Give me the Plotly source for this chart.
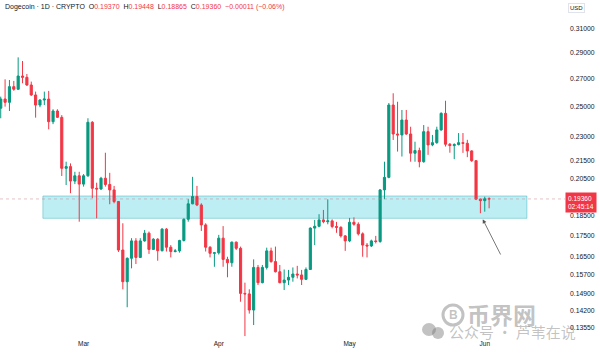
import math
import pandas as pd
import plotly.graph_objects as go

# ---------------- data ----------------
dates = pd.date_range("2025-02-10", "2025-06-02", freq="D")

opens = [0.2488,0.2552,0.2529,0.2641,0.2622,0.2720,0.2710,0.2653,0.2581,0.2510,
0.2545,0.2552,0.2397,0.2469,0.2426,0.2107,0.2117,0.2034,0.2064,0.2017,
0.2064,0.2393,0.1994,0.1990,0.2050,0.2015,0.1985,0.1922,0.1681,0.1540,
0.1643,0.1724,0.1647,0.1724,0.1761,0.1684,0.1732,0.1678,0.1781,0.1694,
0.1674,0.1677,0.1726,0.1830,0.1910,0.1949,0.1904,0.1802,0.1694,0.1666,
0.1668,0.1737,0.1638,0.1623,0.1718,0.1689,0.1491,0.1489,0.1424,0.1602,
0.1536,0.1602,0.1677,0.1628,0.1583,0.1536,0.1547,0.1559,0.1573,0.1569,
0.1550,0.1593,0.1786,0.1795,0.1827,0.1818,0.1822,0.1794,0.1790,0.1748,
0.1724,0.1815,0.1805,0.1758,0.1704,0.1700,0.1724,0.1721,0.1985,0.2055,
0.2510,0.2317,0.2311,0.2408,0.2317,0.2197,0.2213,0.2146,0.2332,0.2248,
0.2262,0.2343,0.2453,0.2252,0.2244,0.2250,0.2262,0.2258,0.2211,0.2152,
0.1935,0.1927,0.19370]

highs = [0.2569,0.2695,0.2690,0.2683,0.2864,0.2835,0.2735,0.2678,0.2605,0.2552,
0.2605,0.2610,0.2481,0.2481,0.2441,0.2146,0.2136,0.2087,0.2087,0.2074,
0.2420,0.2401,0.2025,0.2058,0.2200,0.2081,0.2007,0.1925,0.1810,0.1647,
0.1737,0.1737,0.1737,0.1777,0.1769,0.1737,0.1737,0.1786,0.1786,0.1704,
0.1686,0.1729,0.1835,0.1935,0.2058,0.2007,0.1913,0.1810,0.1699,0.1672,
0.1753,0.1796,0.1650,0.1721,0.1721,0.1697,0.1536,0.1508,0.1638,0.1613,
0.1613,0.1692,0.1692,0.1697,0.1613,0.1593,0.1591,0.1602,0.1609,0.1591,
0.1602,0.1790,0.1827,0.1856,0.1878,0.1934,0.1830,0.1817,0.1795,0.1752,
0.1837,0.1840,0.1815,0.1765,0.1714,0.1730,0.1748,0.1990,0.2146,0.2524,
0.2593,0.2533,0.2476,0.2476,0.2364,0.2268,0.2231,0.2375,0.2364,0.2311,
0.2364,0.2460,0.2540,0.2260,0.2258,0.2323,0.2323,0.2280,0.2215,0.2155,
0.1938,0.1948,0.19448]

lows = [0.2420,0.2499,0.2469,0.2611,0.2617,0.2666,0.2646,0.2574,0.2424,0.2495,
0.2510,0.2347,0.2381,0.2422,0.2063,0.2012,0.1967,0.2017,0.1818,0.2003,
0.2058,0.1940,0.1835,0.1985,0.2003,0.1908,0.1913,0.1672,0.1508,0.1435,
0.1598,0.1617,0.1645,0.1720,0.1663,0.1682,0.1632,0.1674,0.1674,0.1647,
0.1670,0.1669,0.1721,0.1818,0.1908,0.1898,0.1772,0.1674,0.1647,0.1605,
0.1660,0.1605,0.1559,0.1605,0.1681,0.1457,0.1325,0.1410,0.1366,0.1526,
0.1533,0.1593,0.1623,0.1580,0.1533,0.1505,0.1526,0.1540,0.1554,0.1526,
0.1547,0.1591,0.1704,0.1790,0.1810,0.1805,0.1785,0.1763,0.1740,0.1677,
0.1718,0.1798,0.1750,0.1650,0.1647,0.1695,0.1712,0.1715,0.1935,0.2050,
0.2279,0.2207,0.2177,0.2311,0.2146,0.2146,0.2113,0.2140,0.2187,0.2240,
0.2255,0.2338,0.2238,0.2200,0.2161,0.2245,0.2199,0.2173,0.2145,0.1930,
0.1861,0.1869,0.18865]

closes = [0.2552,0.2529,0.2641,0.2622,0.2720,0.2710,0.2653,0.2581,0.2510,0.2545,
0.2552,0.2397,0.2469,0.2426,0.2107,0.2117,0.2034,0.2064,0.2017,0.2064,
0.2393,0.1994,0.1990,0.2050,0.2015,0.1985,0.1922,0.1681,0.1540,0.1643,
0.1724,0.1647,0.1724,0.1761,0.1684,0.1732,0.1678,0.1781,0.1694,0.1674,
0.1677,0.1726,0.1830,0.1910,0.1949,0.1904,0.1802,0.1694,0.1666,0.1668,
0.1737,0.1638,0.1623,0.1718,0.1689,0.1491,0.1489,0.1424,0.1602,0.1536,
0.1602,0.1677,0.1628,0.1583,0.1536,0.1547,0.1559,0.1573,0.1569,0.1550,
0.1593,0.1786,0.1795,0.1827,0.1818,0.1822,0.1794,0.1790,0.1748,0.1724,
0.1815,0.1805,0.1758,0.1704,0.1700,0.1724,0.1721,0.1985,0.2055,0.2510,
0.2317,0.2311,0.2408,0.2317,0.2197,0.2213,0.2146,0.2332,0.2248,0.2262,
0.2343,0.2453,0.2252,0.2244,0.2250,0.2262,0.2258,0.2211,0.2152,0.1935,
0.1927,0.1937,0.19360]

price_ticks = [0.31, 0.29, 0.27, 0.25, 0.23, 0.215, 0.205, 0.185, 0.175,
               0.165, 0.157, 0.149, 0.142, 0.1355]
month_ticks = ["2025-03-01", "2025-04-01", "2025-05-01", "2025-06-01"]
month_labels = ["Mar", "Apr", "May", "Jun"]

last_price = 0.19360
countdown = "02:45:14"
zone_low, zone_high = 0.1835, 0.1952
zone_start, zone_end = "2025-02-19 16:00", "2025-06-10 16:00"
arrow_tip_date, arrow_tip_price = "2025-05-31 13:00", 0.1830

header = ("Dogecoin · 1D · CRYPTO  "
          "O<span style='color:#F23645'>0.19370</span>  "
          "H<span style='color:#F23645'>0.19448</span>  "
          "L<span style='color:#F23645'>0.18865</span>  "
          "C<span style='color:#F23645'>0.19360</span>  "
          "<span style='color:#F23645'>−0.00011 (−0.06%)</span>")

UP = "#089981"
DOWN = "#F23645"
TXT = "#131722"
FONT = "Liberation Sans"
WM = "rgba(120,120,120,0.45)"

fig = go.Figure()
fig.add_trace(go.Candlestick(
    x=dates, open=opens, high=highs, low=lows, close=closes,
    increasing=dict(line=dict(color=UP, width=1), fillcolor=UP),
    decreasing=dict(line=dict(color=DOWN, width=1), fillcolor=DOWN),
    whiskerwidth=0, showlegend=False, hoverinfo="skip",
))

# support zone
fig.add_shape(type="rect", xref="x", yref="y", x0=zone_start, x1=zone_end,
              y0=zone_low, y1=zone_high, fillcolor="rgba(0,188,212,0.26)",
              line=dict(color="rgba(0,151,167,0.35)", width=1), layer="below")
# last price line
fig.add_shape(type="line", xref="paper", yref="y", x0=0, x1=1,
              y0=last_price, y1=last_price,
              line=dict(color="rgba(200,120,130,0.45)", width=1, dash="dot"))

# watermark pieces (paper coords of plot area 565 x 338)
PW, PH = 565.0, 338.0
def px(xp):
    return xp / PW
def py(yp):
    return 1 - yp / PH

fig.add_shape(type="circle", xref="paper", yref="paper",
              x0=px(443), x1=px(463), y0=py(325), y1=py(305),
              line=dict(color=WM, width=3))
fig.add_shape(type="circle", xref="paper", yref="paper",
              x0=px(422), x1=px(436), y0=py(336), y1=py(323),
              fillcolor=WM, line=dict(width=0))
fig.add_shape(type="circle", xref="paper", yref="paper",
              x0=px(432), x1=px(444), y0=py(339), y1=py(327),
              fillcolor=WM, line=dict(width=0))

annotations = [
    dict(xref="paper", yref="paper", x=0, y=1, xanchor="left", yanchor="top",
         xshift=3, yshift=-1, text=header, showarrow=False,
         font=dict(family=FONT, size=7, color=TXT)),
    dict(xref="paper", yref="paper", x=1, y=1, xanchor="left", yanchor="top",
         xshift=3, yshift=-3, text="USD", showarrow=False,
         bordercolor="#e0e3eb", borderwidth=1, borderpad=1,
         font=dict(family=FONT, size=6, color=TXT)),
    dict(xref="paper", yref="y", x=1, y=math.log10(last_price),
         xanchor="left", yanchor="top", yshift=7, xshift=0,
         text=f"{last_price:.5f}<br>{countdown}", showarrow=False,
         align="left", bgcolor=DOWN, borderpad=2,
         font=dict(family=FONT, size=6.5, color="white")),
    dict(xref="x", yref="y", x=arrow_tip_date, y=math.log10(arrow_tip_price),
         ax=18.6, ay=36.7, text="", showarrow=True, arrowhead=2,
         arrowsize=1, arrowwidth=0.8, arrowcolor="#555555", standoff=0),
    dict(xref="paper", yref="paper", x=px(453), y=py(315), text="<b>B</b>",
         xanchor="center", yanchor="middle", showarrow=False,
         font=dict(family=FONT, size=12, color=WM)),
    dict(xref="paper", yref="paper", x=px(501), y=py(314), text="<b>币界网</b>",
         xanchor="center", yanchor="middle", showarrow=False,
         font=dict(family="Noto Sans CJK SC", size=23, color=WM)),
    dict(xref="paper", yref="paper", x=px(512), y=py(331),
         text="公众号 · 芦苇在说", xanchor="center", yanchor="middle",
         showarrow=False,
         font=dict(family="Noto Sans CJK SC", size=15, color=WM)),
]

x_left = pd.Timestamp("2025-02-10") - pd.Timedelta(hours=4)
x_right = pd.Timestamp("2025-02-10") + pd.Timedelta(days=129.4)

fig.update_layout(
    width=600, height=353,
    margin=dict(l=0, r=35, t=0, b=15),
    paper_bgcolor="white", plot_bgcolor="white",
    annotations=annotations,
    xaxis=dict(type="date", range=[x_left, x_right], rangeslider=dict(visible=False),
               tickvals=month_ticks, ticktext=month_labels,
               showgrid=False, zeroline=False, showline=False, ticks="",
               tickfont=dict(family=FONT, size=6.5, color=TXT)),
    yaxis=dict(type="log", side="right",
               range=[math.log10(0.13180), math.log10(0.3356)],
               tickvals=price_ticks, ticktext=[f"{v:.5f}" for v in price_ticks],
               showgrid=False, zeroline=False, showline=False, ticks="",
               ticklabelstandoff=4,
               tickfont=dict(family=FONT, size=6.8, color=TXT)),
)

fig.write_html("out.html")
